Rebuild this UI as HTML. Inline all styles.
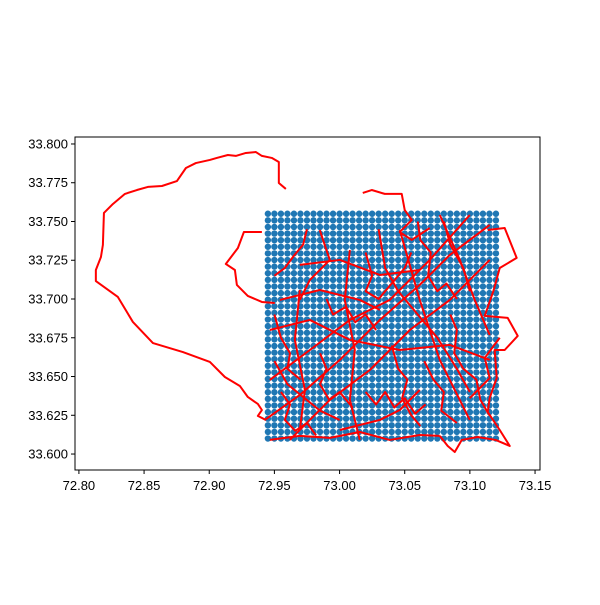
<!DOCTYPE html>
<html><head><meta charset="utf-8"><style>
body{margin:0;background:#fff;}
svg text{font-family:"Liberation Sans",sans-serif;font-size:13px;fill:#000;}
</style></head><body>
<svg id="chart" width="600" height="600">
<g id="dots"></g>
<g id="roads"></g>
<rect x="75" y="137" width="465" height="333" fill="none" stroke="#000" stroke-width="1"/>
<g id="xticks"></g>
<g id="yticks"></g>
</svg>
<script>
const xTicks=[72.80,72.85,72.90,72.95,73.00,73.05,73.10,73.15];
const yTicks=[33.600,33.625,33.650,33.675,33.700,33.725,33.750,33.775,33.800];
const gridLon=[72.945,73.12,36];
const gridLat=[33.61,33.755,35];
const outline=[[72.9588,33.771],[72.9534,33.7748],[72.9534,33.7884],[72.948,33.791],[72.9404,33.7923],[72.9358,33.7948],[72.9281,33.7942],[72.9204,33.7923],[72.9143,33.7929],[72.9058,33.791],[72.9005,33.7897],[72.8897,33.7877],[72.8821,33.7845],[72.8752,33.7761],[72.8637,33.7729],[72.8529,33.7723],[72.8445,33.7703],[72.8353,33.7678],[72.8261,33.7613],[72.8192,33.7555],[72.8184,33.7349],[72.8169,33.7271],[72.813,33.7187],[72.813,33.7116],[72.8299,33.7013],[72.8414,33.6852],[72.8568,33.6716],[72.8798,33.6658],[72.9005,33.6594],[72.912,33.6497],[72.9235,33.6439],[72.9296,33.6368],[72.9373,33.6323],[72.9404,33.6284],[72.9373,33.6246],[72.9434,33.622]];
const westLoop=[[72.9404,33.7432],[72.9266,33.7432],[72.922,33.7329],[72.9127,33.7226],[72.9197,33.7187],[72.9212,33.7091],[72.9296,33.702],[72.9404,33.6981],[72.9503,33.6974]];
const eastEdge=[[73.1137,33.7445],[73.1267,33.7458],[73.1359,33.7265],[73.1229,33.72],[73.1183,33.7058],[73.1114,33.6891],[73.129,33.6878],[73.1367,33.6762],[73.1267,33.6671],[73.119,33.6671],[73.1206,33.6491],[73.1152,33.6362],[73.1137,33.6271],[73.1229,33.6155],[73.1306,33.6052],[73.1198,33.6091],[73.106,33.611],[73.0938,33.6091],[73.0884,33.6013],[73.083,33.6052],[73.0769,33.6117]];
const southEdge=[[72.9465,33.6091],[72.9695,33.6117],[72.9925,33.6104],[73.0155,33.6142],[73.0385,33.6091],[73.0615,33.6123],[73.0769,33.6117]];
const northEdge=[[73.0178,33.7684],[73.0247,33.7703],[73.0347,33.7678],[73.0477,33.7678],[73.05,33.7574],[73.0554,33.751],[73.0462,33.7432],[73.0554,33.7381],[73.0692,33.7458]];
const diag1=[[72.9427,33.622],[72.9695,33.6381],[73.0002,33.6607],[73.0309,33.6865],[73.0615,33.7091],[73.0846,33.7284],[73.1152,33.7478]];
const diag2=[[72.9465,33.6478],[72.9772,33.6671],[73.0079,33.6865],[73.0385,33.6994],[73.0692,33.7252],[73.0999,33.7542]];
const diag3=[[72.9618,33.6091],[72.9925,33.6349],[73.0232,33.6542],[73.0539,33.68],[73.0846,33.6994],[73.1152,33.7252]];
const steep1=[[73.0769,33.7542],[73.0923,33.7252],[73.1037,33.6994],[73.1152,33.6768]];
const steep2=[[73.0462,33.7445],[73.0615,33.6994],[73.0769,33.6607],[73.0999,33.622]];
const road1=[[72.9695,33.722],[73.0002,33.7252],[73.0309,33.7155],[73.0615,33.7187]];
const road2=[[72.9465,33.68],[72.9772,33.6865],[73.0079,33.6736],[73.0462,33.6671],[73.0846,33.6704],[73.1152,33.6607]];
const road3=[[72.9542,33.6994],[72.9848,33.7058],[73.0155,33.6994],[73.0309,33.693]];
const road4=[[73.0079,33.7316],[73.004,33.6994],[73.0117,33.6671],[73.0079,33.6349],[73.0155,33.6091]];
const road5=[[72.9695,33.7058],[72.9657,33.6736],[72.9734,33.6413],[72.9695,33.6155]];
const road6=[[73.0615,33.6413],[73.0462,33.6284],[73.0309,33.622],[73.0002,33.6155]];
const road7=[[72.9848,33.7445],[72.9925,33.7252],[72.9772,33.7123],[72.9695,33.6994]];
const road8=[[73.0999,33.636],[73.1152,33.649],[73.1114,33.662],[73.1229,33.675]];
const road9=[[72.95,33.66],[72.96,33.645],[72.985,33.628],[73.0,33.622]];
const road10=[[73.03,33.745],[73.035,33.72],[73.045,33.705],[73.06,33.69],[73.075,33.675],[73.09,33.655],[73.1,33.64]];
const road11=[[73.08,33.75],[73.085,33.735],[73.095,33.72],[73.1,33.705]];
const road12=[[72.955,33.64],[72.962,33.632],[72.958,33.622],[72.966,33.615],[72.975,33.62],[72.982,33.612]];
const road13=[[73.02,33.64],[73.028,33.632],[73.035,33.64],[73.042,33.63],[73.05,33.636],[73.058,33.626],[73.066,33.632]];
const road14=[[72.99,33.70],[72.995,33.69],[73.005,33.695],[73.012,33.685],[73.02,33.69],[73.028,33.68]];
const road15=[[73.06,33.75],[73.062,33.738],[73.07,33.73],[73.068,33.715],[73.075,33.705],[73.082,33.71],[73.09,33.70]];
const road16=[[72.975,33.745],[72.972,33.735],[72.965,33.728],[72.958,33.72],[72.95,33.715]];
const road17=[[73.04,33.67],[73.045,33.655],[73.052,33.648],[73.048,33.636],[73.055,33.625],[73.062,33.618]];
const road18=[[73.085,33.69],[73.09,33.68],[73.088,33.665],[73.095,33.655],[73.105,33.648],[73.108,33.635],[73.115,33.625]];
const road19=[[72.985,33.665],[72.99,33.655],[72.985,33.645],[72.992,33.635],[73.0,33.64],[73.01,33.63]];
const road20=[[73.02,33.73],[73.025,33.715],[73.02,33.705],[73.03,33.70],[73.04,33.71],[73.05,33.72],[73.055,33.73]];
const road21=[[72.95,33.69],[72.955,33.675],[72.962,33.665],[72.96,33.655],[72.97,33.648]];
const road22=[[73.065,33.66],[73.072,33.648],[73.08,33.64],[73.078,33.628],[73.09,33.62]];
const roads=[outline,westLoop,eastEdge,southEdge,northEdge,diag1,diag2,diag3,steep1,steep2,road1,road2,road3,road4,road5,road6,road7,road8,road9,road10,road11,road12,road13,road14,road15,road16,road17,road18,road19,road20,road21,road22];

const X0=75,X1=540,Y0=470,Y1=137,LON0=72.797,LON1=73.1538,LAT0=33.5897,LAT1=33.8045;
const sx=v=>X0+(v-LON0)/(LON1-LON0)*(X1-X0);
const sy=v=>Y0-(v-LAT0)/(LAT1-LAT0)*(Y0-Y1);
const NS='http://www.w3.org/2000/svg';
function mk(t,a){const e=document.createElementNS(NS,t);for(const k in a)e.setAttribute(k,a[k]);return e;}

const dots=document.getElementById('dots');
for(let i=0;i<gridLon[2];i++){for(let j=0;j<gridLat[2];j++){
 const lon=gridLon[0]+(gridLon[1]-gridLon[0])*i/(gridLon[2]-1);
 const lat=gridLat[0]+(gridLat[1]-gridLat[0])*j/(gridLat[2]-1);
 const c=mk('circle',{cx:sx(lon),cy:sy(lat),r:3.2,fill:'#1f77b4'});
 
 
 dots.appendChild(c);}}

const rg=document.getElementById('roads');
roads.forEach(r=>{
 const p=mk('polyline',{points:r.map(q=>sx(q[0])+','+sy(q[1])).join(' '),fill:'none',stroke:'#ff0000','stroke-width':2,'stroke-linejoin':'round'});
 
 
 rg.appendChild(p);});

const xg=document.getElementById('xticks');
xTicks.forEach(v=>{
 const x=sx(v);
 const l=mk('line',{x1:x,x2:x,y1:470,y2:474,stroke:'#000'});
 
 
 xg.appendChild(l);
 const t=mk('text',{x:x,y:490,'text-anchor':'middle'});t.textContent=v.toFixed(2);
 
 
 xg.appendChild(t);});
const yg=document.getElementById('yticks');
yTicks.forEach(v=>{
 const y=sy(v);
 const l=mk('line',{x1:71,x2:75,y1:y,y2:y,stroke:'#000'});
 
 
 yg.appendChild(l);
 const t=mk('text',{x:68,y:y+4.5,'text-anchor':'end'});t.textContent=v.toFixed(3);
 
 
 yg.appendChild(t);});
</script>
</body></html>
